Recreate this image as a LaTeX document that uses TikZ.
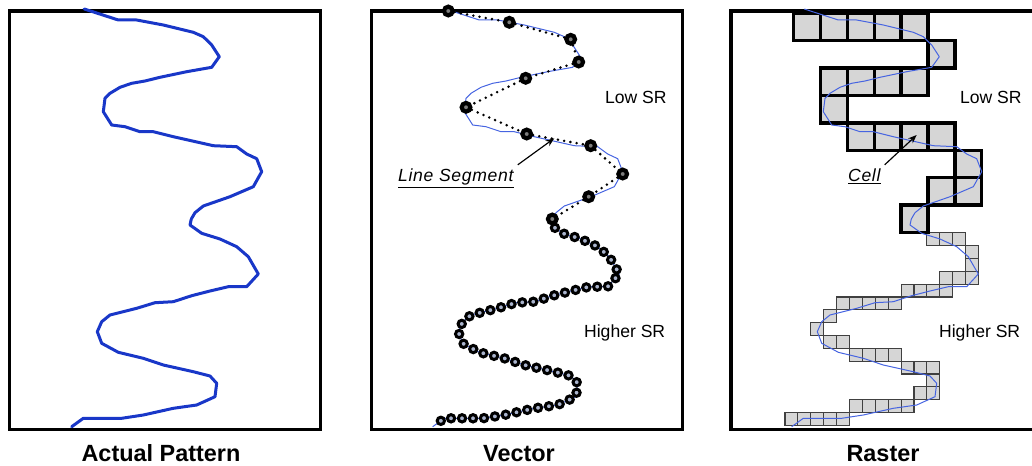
\documentclass[tikz,border=0pt]{standalone}
\usepackage{fontspec}
\setmainfont{Liberation Sans}
\usepackage{tikz}
\usetikzlibrary{arrows.meta,decorations.markings}
\definecolor{patblue}{RGB}{25,55,200}
\definecolor{thinblue}{RGB}{70,100,225}
\definecolor{cellgray}{RGB}{214,214,214}
\definecolor{vertexgray}{RGB}{125,125,125}
\definecolor{dotgray}{RGB}{170,180,205}
\tikzstyle{panel}=[
        draw=black,
        line width=0.95mm
]
\tikzstyle{trace}=[
        draw=patblue,
        line width=0.9mm,
        line join=round,
        line cap=round
]
\tikzstyle{thintrace}=[
        draw=thinblue,
        line width=0.3mm,
        line join=round
]
\tikzstyle{segment}=[
        draw=black,
        line width=0.85mm,
        line cap=round,
        dash pattern=on 0pt off 1.9mm
]
\tikzstyle{bigvertex}=[
        circle, draw=black, line width=1.25mm,
        fill=vertexgray, inner sep=0pt, minimum size=2.6mm
]
\tikzstyle{vertex}=[
        circle, draw=black, line width=0.9mm,
        fill=dotgray, inner sep=0pt, minimum size=2.2mm
]
\tikzstyle{bigcell}=[
        draw=black,
        line width=1mm,
        fill=cellgray
]
\tikzstyle{cell}=[
        draw=black!75,
        line width=0.35mm,
        fill=cellgray
]
\tikzstyle{caption}=[
        font=\fontsize{20}{24}\selectfont\bfseries,
        anchor=base
]
\tikzstyle{srlabel}=[
        font=\fontsize{15}{18}\selectfont,
        anchor=base west
]
\tikzstyle{note}=[
        font=\fontsize{15}{18}\selectfont\addfontfeature{LetterSpace=4}\itshape,
        anchor=base west
]
\tikzstyle{pointer}=[
        draw=black,
        line width=0.35mm,
        -{Stealth[length=2.6mm,width=2mm]}
]
% the traced pattern, in the coordinates of the first panel
\def\upperpart{(84.3,9) -- (118.3,20) -- (136.7,20) -- (163.3,25) -- (193.3,32.3)
  -- (203.3,36.7) -- (211.7,45) -- (219.3,56.7) -- (211.7,67.3) -- (186.7,71.7)
  -- (160,77.3) -- (145,81) -- (131.7,83.3) -- (120,87.3) -- (110,93.3)
  -- (105,98.3) -- (103.3,111.7) -- (111.7,125) -- (125,126.7) -- (140,131.7)
  -- (153.3,131.7) -- (173.3,136.7) -- (200,142.7) -- (213.3,145.7) -- (236.7,146.7)
  -- (246.7,154) -- (256.7,158.7) -- (261.7,171.7) -- (253.3,186.7) -- (230,196.7)
  -- (203.3,206) -- (195,212.7) -- (191.3,219)}
\def\lowerpart{(191.3,219) -- (190,225) -- (201.7,233.3) -- (220,239) -- (236.7,246.7)
  -- (248.3,256.7) -- (258.3,274) -- (246.7,286.7) -- (228.3,286.7) -- (210,291)
  -- (191.7,295.7) -- (173.3,301.7) -- (155,302.7) -- (136.7,308.3) -- (110,315)
  -- (101.7,321.7) -- (97.3,331.7) -- (101.7,343.3) -- (118.3,352.3) -- (143.3,358.3)
  -- (163.3,365) -- (193.3,371.7) -- (210,376) -- (216.7,383.3) -- (215,396.7)
  -- (196.7,405) -- (173.3,408.3) -- (143.3,415) -- (121.7,418.3) -- (83.3,418.3)
  -- (71.7,426.7)}

\begin{document}
\begin{tikzpicture}[x=0.3mm, y=-0.3mm]
        \useasboundingbox (0,0) rectangle (1032,466);

        % frames
        \draw[panel] (9.3,11) rectangle (320.7,429.5);
        \draw[panel] (371.7,11) rectangle (682.7,429.5);
        \draw[panel] (1040,11) -- (731,11) -- (731,429.5) -- (1040,429.5);

        % actual pattern
        \draw[trace] \upperpart \lowerpart;

        % vector
        \draw[thintrace, shift={(361,0)}] \upperpart \lowerpart;

        \node[bigvertex] (v1) at (448.3,11) {};
        \node[bigvertex] (v2) at (509.3,22.3) {};
        \node[bigvertex] (v3) at (570.7,39.3) {};
        \node[bigvertex] (v4) at (578.7,62) {};
        \node[bigvertex] (v5) at (525.7,78.3) {};
        \node[bigvertex] (v6) at (466,107.3) {};
        \node[bigvertex] (v7) at (526.7,134) {};
        \node[bigvertex] (v8) at (590.7,145.7) {};
        \node[bigvertex] (v9) at (622.7,174) {};
        \node[bigvertex] (v10) at (588.7,196.7) {};
        \node[bigvertex] (v11) at (552.3,219) {};

        \draw[segment] (v1) -- (v2) -- (v3) -- (v4) -- (v5) -- (v6)
                -- (v7) -- (v8) -- (v9) -- (v10) -- (v11);

        \path[shift={(361,0)}, postaction={decorate}, decoration={markings,
                mark=between positions 3.3mm and 1 step 3.3mm with
                {\node[vertex] (s\pgfkeysvalueof{/pgf/decoration/mark info/sequence number}) {};}}]
                \lowerpart;

        % raster
        \foreach \c/\r in {11/0,12/0,13/0,14/1,14/2,12/3,13/3,14/3,9/4,10/4,11/4,12/4,
                4/5,5/5,6/5,7/5,8/5,3/6,2/7,3/8,4/8,5/9,6/9,7/9,8/9,9/10,10/10,11/10,
                11/11,10/12,11/12,5/13,6/13,7/13,8/13,9/13,0/14,1/14,2/14,3/14,4/14} {
            \draw[cell] (785+12.9*\c,232.7+12.85*\r) rectangle ++(12.9,12.85);
        }
        \foreach \c/\r in {0/0,1/0,2/0,3/0,4/0,5/1,1/2,2/2,3/2,4/2,1/3,
                2/4,3/4,4/4,5/4,6/5,5/6,6/6,4/7} {
            \draw[bigcell] (793.5+26.9*\c,13.3+27.4*\r) rectangle ++(26.9,27.4);
        }

        \draw[thintrace, shift={(720,0)}] \upperpart \lowerpart;

        % labels
        \node[srlabel] (lowvec) at (601,103.3) {Low SR};
        \node[srlabel] (highvec) at (580,337.3) {Higher SR};
        \node[srlabel] (lowras) at (956,103.3) {Low SR};
        \node[srlabel] (highras) at (935,337.3) {Higher SR};

        \node[note] (seglabel) at (394,181.7) {\underline{Line Segment}};
        \coordinate (segtip) at (554.3,138.3);
        \draw[pointer] (seglabel.north east) -- (segtip);

        \node[note] (celllabel) at (844,181.7) {\underline{Cell}};
        \coordinate (celltip) at (916.7,135);
        \draw[pointer] (celllabel.north east) -- (celltip);

        \node[caption] (actual) at (161,461.7) {Actual Pattern};
        \node[caption] (vector) at (519,461.7) {Vector};
        \node[caption] (raster) at (883,461.7) {Raster};
\end{tikzpicture}
\end{document}
